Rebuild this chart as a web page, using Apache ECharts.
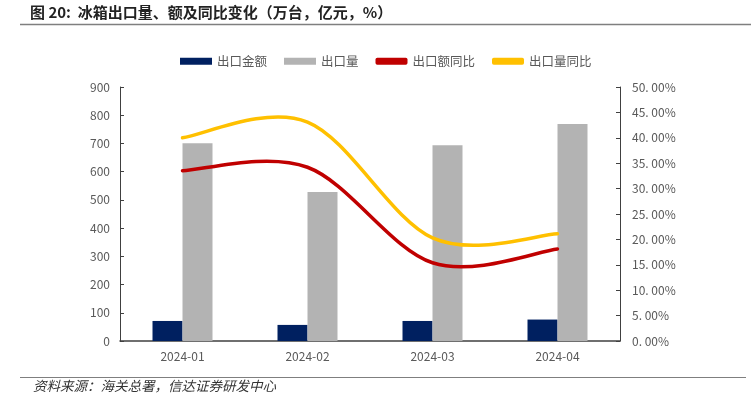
<!DOCTYPE html>
<html><head><meta charset="utf-8">
<script src="https://cdn.jsdelivr.net/npm/echarts@6/dist/echarts.min.js"></script>
<style>html,body{margin:0;padding:0;background:#fff}#c{width:751px;height:402px}</style>
</head><body><div id="c"></div>
<script>
const categories = ['2024-01','2024-02','2024-03','2024-04'];
const exportValue = [71, 57, 71, 76];
const exportVolume = [701, 528, 694, 769];
const valueYoY = [33.5, 34.2, 15.4, 18.1];
const volumeYoY = [40.0, 43.1, 20.3, 21.1];
const leftTicks = [0, 900, 100];
const rightTicks = [0, 50, 5];

const chart = echarts.init(document.getElementById('c'));
const lblColor = '#595959';
const font = '"Noto Sans CJK SC", "Noto Sans", sans-serif';

// Excel-like smooth curve through the points, positioned with the chart's own scales
function smoothLine(values, color) {
  return function (params, api) {
    const p = values.map((v, i) => api.coord([i, v]));
    const n = p.length;
    let d = 'M' + p[0][0] + ' ' + p[0][1];
    for (let i = 0; i < n - 1; i++) {
      const a = p[Math.max(i - 1, 0)], b = p[i], c = p[i + 1], e = p[Math.min(i + 2, n - 1)];
      const c1 = [b[0] + (c[0] - a[0]) / 6, b[1] + (c[1] - a[1]) / 6];
      const c2 = [c[0] - (e[0] - b[0]) / 6, c[1] - (e[1] - b[1]) / 6];
      d += ' C' + c1[0] + ' ' + c1[1] + ' ' + c2[0] + ' ' + c2[1] + ' ' + c[0] + ' ' + c[1];
    }
    return {type: 'path', shape: {pathData: d},
            style: {stroke: color, lineWidth: 3.5, fill: 'none', lineCap: 'round'}};
  };
}

chart.setOption({
  animation: false,
  textStyle: {fontFamily: font},
  graphic: [
    {type:'text', left: 30, top: 5, style:{text:'图 20:  冰箱出口量、额及同比变化（万台，亿元，%）', font:'bold 15px "Noto Sans CJK SC"', fill:'#222'}},
    {type:'line', shape:{x1:20,y1:24.5,x2:751,y2:24.5}, style:{stroke:'#7f7f7f', lineWidth:1.5}},
    {type:'line', shape:{x1:20,y1:377.5,x2:746,y2:377.5}, style:{stroke:'#7f7f7f', lineWidth:1}},
    {type:'text', left: 33, top: 379, style:{text:'资料来源：海关总署，信达证券研发中心', font:'italic 13.5px "Noto Sans CJK SC"', fill:'#333'}}
  ],
  legend: {
    top: 50, left: 175,
    itemWidth: 32, itemHeight: 7, itemGap: 17,
    textStyle: {color: lblColor, fontSize: 12.5},
    data: [
      {name:'出口金额', icon:'rect'},
      {name:'出口量', icon:'rect'},
      {name:'出口额同比', icon:'roundRect', itemStyle:{color:'#c00000'}},
      {name:'出口量同比', icon:'roundRect', itemStyle:{color:'#ffc000'}}
    ]
  },
  grid: {left: 120, right: 131, top: 87, bottom: 61},
  xAxis: {
    type:'category', data: categories,
    axisLine:{lineStyle:{color:'#404040', width:1.5}},
    axisTick:{show:false},
    axisLabel:{color: lblColor, fontSize: 12, margin: 9}
  },
  yAxis: [
    {type:'value', min:leftTicks[0], max:leftTicks[1], interval:leftTicks[2],
     axisLine:{show:true, lineStyle:{color:'#404040'}},
     axisTick:{show:true, inside:true, length:4, lineStyle:{color:'#404040'}},
     splitLine:{show:false},
     axisLabel:{color: lblColor, fontSize: 12, margin: 10}},
    {type:'value', min:rightTicks[0], max:rightTicks[1], interval:rightTicks[2],
     axisLine:{show:true, lineStyle:{color:'#404040'}},
     axisTick:{show:true, inside:true, length:4, lineStyle:{color:'#404040'}},
     splitLine:{show:false},
     axisLabel:{color: lblColor, fontSize: 12, margin: 12, formatter: v => v.toFixed(2).replace('.', '. ') + '%'}}
  ],
  series: [
    {name:'出口金额', type:'bar', data: exportValue, barWidth: 30, barGap: '0%', itemStyle:{color:'#002060'}},
    {name:'出口量', type:'bar', data: exportVolume, barWidth: 30, barGap: '0%', itemStyle:{color:'#b3b3b3'}},
    {name:'出口额同比', type:'custom', yAxisIndex:1, data: [valueYoY[0]], renderItem: smoothLine(valueYoY, '#c00000'), itemStyle:{color:'#c00000'}, z: 3},
    {name:'出口量同比', type:'custom', yAxisIndex:1, data: [volumeYoY[0]], renderItem: smoothLine(volumeYoY, '#ffc000'), itemStyle:{color:'#ffc000'}, z: 3}
  ]
});
</script></body></html>
